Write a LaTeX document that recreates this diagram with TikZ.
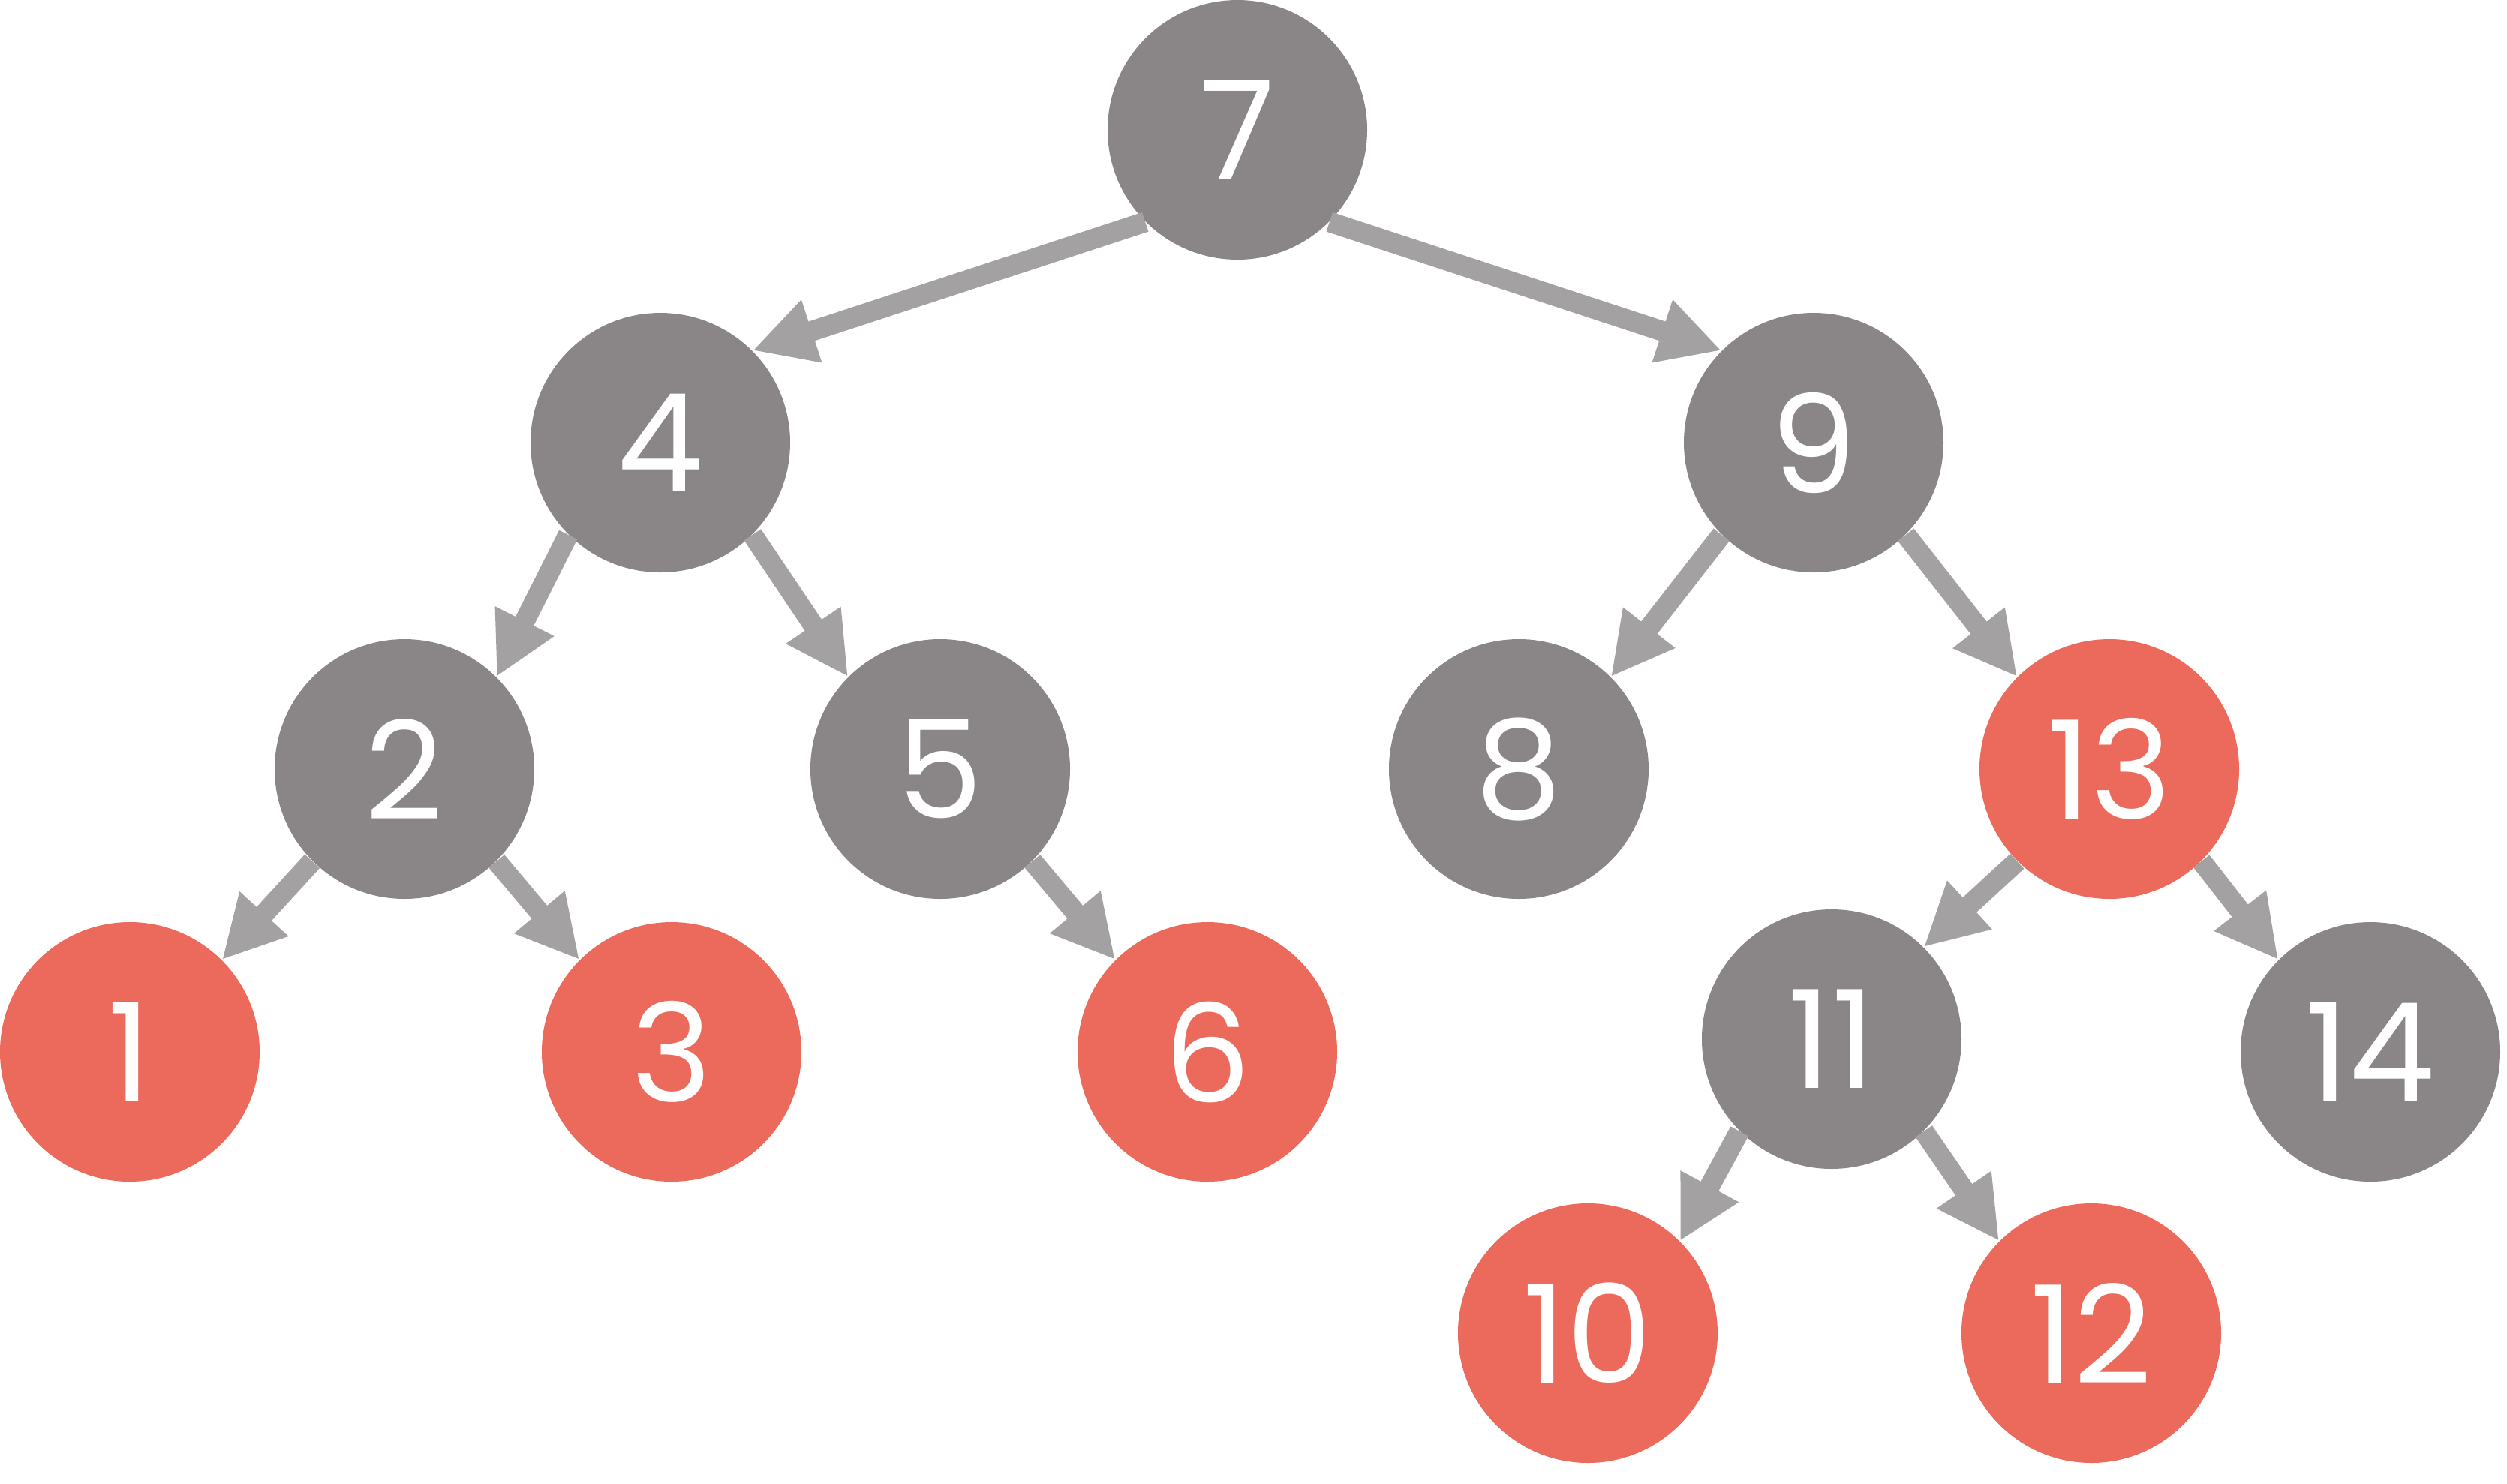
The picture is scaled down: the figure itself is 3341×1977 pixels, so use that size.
\documentclass[tikz,border=0pt]{standalone}
\usepackage{fontspec}
\setmainfont{Poppins}
\usetikzlibrary{arrows.meta}
\definecolor{nodegray}{HTML}{8A8687}
\definecolor{nodered}{HTML}{EC6A5C}
\definecolor{edgegray}{HTML}{A3A1A2}
\begin{document}
\begin{tikzpicture}[x=0.1mm,y=-0.1mm,
  tn/.style={circle, minimum size=34.6mm, inner sep=0pt, text=white,
             font=\fontsize{51.8pt}{60pt}\selectfont},
  gn/.style={tn, fill=nodegray},
  rn/.style={tn, fill=nodered},
  arr/.style={draw=edgegray, line width=2.7mm,
              -{Triangle[length=8.3mm,width=8.2mm]}}]
\useasboundingbox (0,0) rectangle (3341,1977);
\node[gn] (n7)  at (1649,173)  {7};
\node[gn] (n4)  at (880,590)   {4};
\node[gn] (n9)  at (2417,590)  {9};
\node[gn] (n2)  at (539,1025)  {2};
\node[gn] (n5)  at (1253,1025) {5};
\node[gn] (n8)  at (2024,1025) {8};
\node[rn] (n13) at (2811,1025) {13};
\node[rn] (n1)  at (173,1402)  {1};
\node[rn] (n3)  at (895,1402)  {3};
\node[rn] (n6)  at (1609,1402) {6};
\node[gn] (n11) at (2441,1385) {11};
\node[gn] (n14) at (3159,1402) {14};
\node[rn] (n10) at (2116,1777) {10};
\node[rn] (n12) at (2787,1777) {12};
\draw[arr] (n7.south west) -- (n4.north east);
\draw[arr] (n7.south east) -- (n9.north west);
\draw[arr] (n4.south west) -- (n2.north east);
\draw[arr] (n4.south east) -- (n5.north west);
\draw[arr] (n9.south west) -- (n8.north east);
\draw[arr] (n9.south east) -- (n13.north west);
\draw[arr] (n2.south west) -- (n1.north east);
\draw[arr] (n2.south east) -- (n3.north west);
\draw[arr] (n5.south east) -- (n6.north west);
\draw[arr] (n13.south west) -- (n11.north east);
\draw[arr] (n13.south east) -- (n14.north west);
\draw[arr] (n11.south west) -- (n10.north east);
\draw[arr] (n11.south east) -- (n12.north west);
\end{tikzpicture}
\end{document}
